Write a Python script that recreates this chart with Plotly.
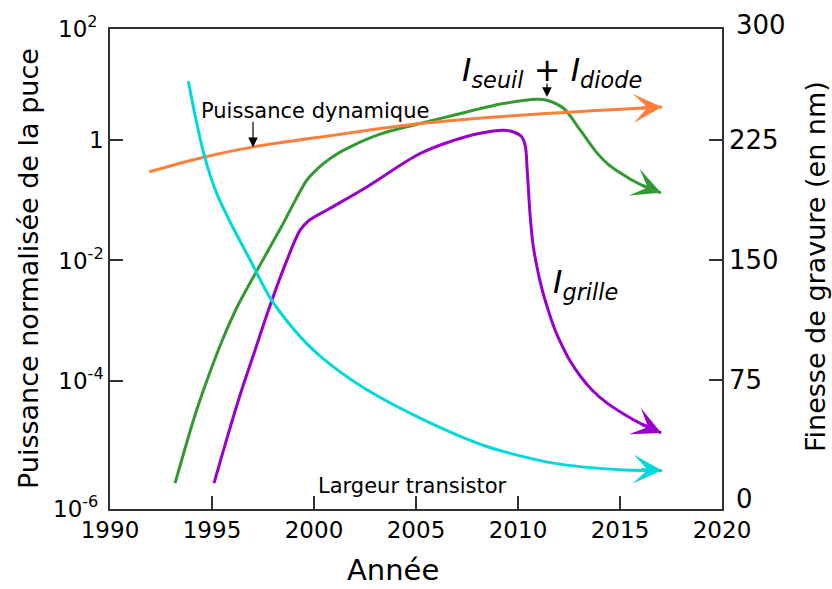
import numpy as np
import plotly.graph_objects as go

# ---- data ----
years_largeur = [1993.84, 1994.22, 1994.64, 1995.23, 1995.89, 1996.87, 1997.85, 1998.83,
                 1999.96, 2001.28, 2002.59, 2005.20, 2008.47, 2011.74, 2015.01, 2017.06]
nm_largeur = [261.9, 237.5, 214.6, 191.7, 173.8, 150.0, 126.3, 109.4,
              93.8, 80.0, 68.8, 51.1, 33.3, 22.9, 18.75, 18.3]

years_dyn = [1991.93, 1994.64, 1997.03, 2000.95, 2005.20, 2010.10, 2017.06]
p_dyn = [0.30, 0.53, 0.78, 1.22, 1.91, 2.63, 3.61]

years_seuil = [1993.19, 1994.17, 1994.76, 1995.49, 1996.28, 1997.16, 1998.39, 1999.65,
               2000.05, 2000.46, 2001.03, 2001.77, 2003.24, 2005.20, 2006.84, 2009.29,
               2010.93, 2011.42, 2012.24, 2013.05, 2013.87, 2014.42, 2015.01, 2015.65,
               2016.29, 2017.01]
p_seuil = [1.95e-6, 2.67e-5, 1.02e-4, 4.55e-4, 1.81e-3, 6.4e-3, 0.0359, 0.218,
           0.307, 0.41, 0.567, 0.78, 1.27, 1.91, 2.63, 4.11,
           4.85, 4.67, 3.40, 1.48, 0.62, 0.40, 0.290, 0.213,
           0.166, 0.134]

years_grille = [1995.10, 1995.64, 1996.38, 1997.11, 1997.85, 1998.63, 1999.32, 1999.71,
                2000.79, 2002.59, 2005.20, 2006.84, 2008.15, 2009.29, 2009.78, 2010.16,
                2010.35, 2010.45, 2010.60, 2010.74, 2010.94, 2011.19, 2011.48, 2011.82,
                2012.17, 2012.56, 2013.05, 2013.64, 2014.37, 2015.26, 2016.14, 2017.02]
p_grille = [1.95e-6, 8.5e-6, 5.8e-5, 3.2e-4, 1.8e-3, 9.3e-3, 0.032, 0.045,
            0.074, 0.168, 0.605, 1.0, 1.32, 1.48, 1.38, 1.17,
            0.83, 0.32, 0.0533, 0.018, 7.5e-3, 3.2e-3, 1.49e-3, 6.9e-4,
            3.75e-4, 2.11e-4, 1.19e-4, 6.9e-5, 4.2e-5, 2.67e-5, 1.82e-5, 1.34e-5]

x_ticks = [1990, 1995, 2000, 2005, 2010, 2015, 2020]
y_ticks = [1, 1e-2, 1e-4]
y_ticktext = ["1", "10<sup>-2</sup>", "10<sup>-4</sup>"]
y2_ticks = [75, 150, 225]

C_CYAN = "#00d9d9"
C_ORANGE = "#ff7f3a"
C_GREEN = "#339933"
C_PURPLE = "#9900cc"
AX = "#333333"
FONT = "DejaVu Sans"

fig = go.Figure()
fig.add_trace(go.Scatter(x=years_largeur, y=nm_largeur, yaxis="y2", mode="lines",
                         line=dict(color=C_CYAN, width=3, shape="spline", smoothing=0.8)))
fig.add_trace(go.Scatter(x=years_grille, y=p_grille, mode="lines",
                         line=dict(color=C_PURPLE, width=3, shape="spline", smoothing=1.0)))
fig.add_trace(go.Scatter(x=years_seuil, y=p_seuil, mode="lines",
                         line=dict(color=C_GREEN, width=3, shape="spline", smoothing=1.0)))
fig.add_trace(go.Scatter(x=years_dyn, y=p_dyn, mode="lines",
                         line=dict(color=C_ORANGE, width=3, shape="spline", smoothing=1)))

ann = []
# arrowheads at the ends of curves
def head(x, y, yref, ax, ay, color):
    return dict(x=x, y=y, xref="x", yref=yref, ax=ax, ay=ay, text="", showarrow=True,
                arrowhead=3, arrowsize=1.6, arrowwidth=3, arrowcolor=color)

ann.append(head(years_dyn[-1], np.log10(p_dyn[-1]), "y", -22, 1, C_ORANGE))
ann.append(head(years_seuil[-1], np.log10(p_seuil[-1]), "y", -20, -8, C_GREEN))
ann.append(head(years_grille[-1], np.log10(p_grille[-1]), "y", -20, -9, C_PURPLE))
ann.append(head(years_largeur[-1], nm_largeur[-1], "y2", -22, -1, C_CYAN))

# small pointer arrows
ann.append(dict(x=1997.01, y=-0.113, xref="x", yref="y", ax=0, ay=-27, text="",
                showarrow=True, arrowhead=2, arrowsize=1.6, arrowwidth=1.2, arrowcolor="black"))
ann.append(dict(x=2011.42, y=0.724, xref="x", yref="y", ax=0, ay=-15, text="",
                showarrow=True, arrowhead=2, arrowsize=1.6, arrowwidth=1.2, arrowcolor="black"))

def ptxt(text, x, y, size, xanchor="center", yanchor="middle", angle=0):
    return dict(text=text, x=(x - 110) / 612, y=(509 - y) / 480, xref="paper", yref="paper",
                showarrow=False, xanchor=xanchor, yanchor=yanchor, textangle=angle,
                font=dict(family=FONT, size=size, color="black"))

ann.append(ptxt("Puissance dynamique", 315, 111, 21))
ann.append(ptxt("Largeur transistor", 412, 486, 21))
ann.append(ptxt("<i>I</i><sub><i>seuil</i></sub> + <i>I</i><sub><i>diode</i></sub>", 552, 72, 32))
ann.append(ptxt("<i>I</i><sub><i>grille</i></sub>", 585, 284, 32))

# axis titles
ann.append(ptxt("Puissance normalisée de la puce", 28, 269, 27, angle=-90))
ann.append(ptxt("Finesse de gravure (en nm)", 815, 266, 27, angle=-90))
ann.append(ptxt("Année", 393, 570, 29))

# end tick labels
ann.append(ptxt("10<sup>2</sup>", 100, 27, 23, xanchor="right"))
ann.append(ptxt("10<sup>-6</sup>", 100, 507, 23, xanchor="right"))
ann.append(ptxt("300", 734, 25, 26, xanchor="left"))
ann.append(ptxt("0", 734, 499, 26, xanchor="left"))

fig.update_layout(
    width=832, height=589,
    margin=dict(l=110, r=110, t=29, b=80),
    paper_bgcolor="white", plot_bgcolor="white",
    showlegend=False,
    annotations=ann,
    xaxis=dict(range=[1990, 2020], tickvals=x_ticks, ticks="inside", ticklen=13,
               tickwidth=1.5, tickcolor=AX, showline=True, linecolor=AX, linewidth=1.5,
               mirror=True, showgrid=False, zeroline=False,
               tickfont=dict(family=FONT, size=23, color="black")),
    yaxis=dict(type="log", range=[-6.14, 1.856], tickvals=y_ticks, ticktext=y_ticktext,
               ticks="inside", ticklen=13, tickwidth=1.5, tickcolor=AX,
               showline=True, linecolor=AX, linewidth=1.5, showgrid=False, zeroline=False,
               tickfont=dict(family=FONT, size=23, color="black")),
    yaxis2=dict(overlaying="y", side="right", range=[-5.8, 294.6], tickvals=y2_ticks,
                ticks="inside", ticklen=13, tickwidth=1.5, tickcolor=AX,
                showline=True, linecolor=AX, linewidth=1.5, showgrid=False, zeroline=False,
                tickfont=dict(family=FONT, size=26, color="black")),
)

fig.write_html("out.html", config={"displayModeBar": False},
               post_script="document.body.style.margin='0';")
